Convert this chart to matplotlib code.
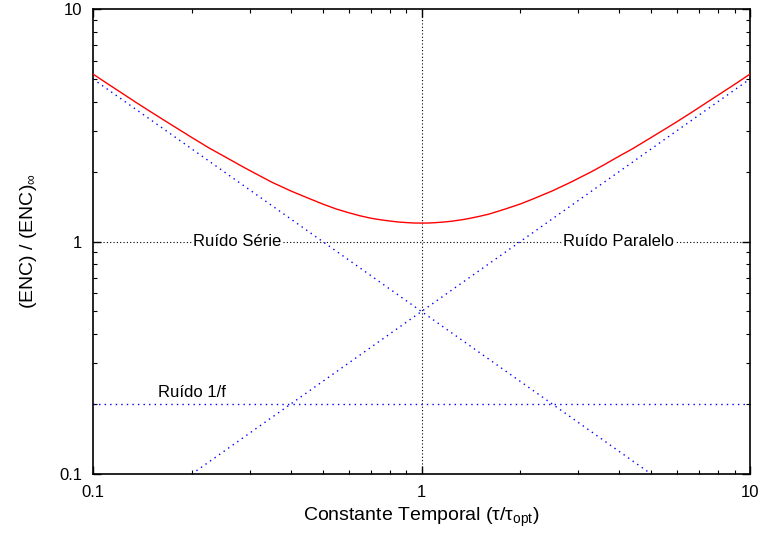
import matplotlib.pyplot as plt
from matplotlib.ticker import FixedLocator, FixedFormatter, LogLocator, NullFormatter

plt.rcParams['font.family'] = ['Liberation Sans', 'DejaVu Sans']
plt.rcParams['mathtext.fontset'] = 'custom'
plt.rcParams['mathtext.rm'] = 'Liberation Sans'
plt.rcParams['mathtext.it'] = 'Liberation Sans:italic'

# Curva total (ENC normalizado)
tau_total = [0.1, 0.11, 0.12, 0.135, 0.15, 0.17, 0.2, 0.225, 0.25, 0.28, 0.3, 0.35, 0.4,
             0.45, 0.5, 0.55, 0.6, 0.65, 0.7, 0.75, 0.8, 0.85, 0.9, 0.95, 1.0,
             1.05, 1.1, 1.18, 1.25, 1.33, 1.4, 1.5, 1.6, 1.8, 2.0, 2.2, 2.5, 2.85, 3.3,
             3.6, 4.0, 4.4, 5.0, 5.9, 6.7, 7.4, 8.3, 9.1, 10]
enc_total = [5.25, 4.80, 4.43, 3.97, 3.61, 3.23, 2.80, 2.53, 2.33, 2.13, 2.02, 1.80, 1.65,
             1.54, 1.45, 1.38, 1.33, 1.29, 1.26, 1.24, 1.225, 1.213, 1.206, 1.201, 1.20,
             1.201, 1.205, 1.214, 1.225, 1.241, 1.257, 1.283, 1.31, 1.38, 1.45, 1.53, 1.65, 1.80, 2.00,
             2.14, 2.33, 2.51, 2.80, 3.23, 3.62, 3.97, 4.41, 4.80, 5.25]

# Componentes de ruído
tau_serie = [0.1, 5]
enc_serie = [5, 0.1]
tau_paralelo = [0.2, 10]
enc_paralelo = [0.1, 5]
tau_1f = [0.1, 10]
enc_1f = [0.2, 0.2]

fig = plt.figure(figsize=(7.63, 5.35), dpi=100)
ax = fig.add_axes([93/763, 1 - 474/535, 657/763, 465/535])

ax.axvline(1, color='k', linestyle=(0, (1, 2)), linewidth=0.8, zorder=1)
ax.axhline(1, color='k', linestyle=(0, (1, 2)), linewidth=0.8, zorder=1)

azul = dict(color='#0000ff', linestyle=(0, (1, 3)), linewidth=1.0, zorder=2)
ax.plot(tau_serie, enc_serie, **azul)
ax.plot(tau_paralelo, enc_paralelo, **azul)
ax.plot(tau_1f, enc_1f, **azul)
ax.plot(tau_total, enc_total, color='#ff0000', linewidth=1.0, zorder=3)

caixa = dict(facecolor='white', edgecolor='none', pad=1)
ax.text(0.275, 1.0, 'Ruído Série', ha='center', va='center', fontsize=12, bbox=caixa, zorder=4)
ax.text(3.99, 1.0, 'Ruído Paralelo', ha='center', va='center', fontsize=12, bbox=caixa, zorder=4)
ax.text(0.2, 0.225, 'Ruído 1/f', ha='center', va='center', fontsize=12, zorder=4)

ax.set_xscale('log')
ax.set_yscale('log')
ax.set_xlim(0.1, 10)
ax.set_ylim(0.1, 10)

for eixo in (ax.xaxis, ax.yaxis):
    eixo.set_major_locator(FixedLocator([0.1, 1, 10]))
    eixo.set_major_formatter(FixedFormatter(['0.1', '1', '10']))
    eixo.set_minor_locator(LogLocator(base=10, subs=range(2, 10)))
    eixo.set_minor_formatter(NullFormatter())

ax.tick_params(which='both', direction='in', top=True, right=True, labelsize=12)
ax.tick_params(which='major', length=6, width=1, pad=8)
ax.tick_params(which='minor', length=3, width=0.8)
for s in ax.spines.values():
    s.set_linewidth(1.2)

ax.set_xlabel('Constante Temporal (τ/τ$_{\\mathrm{opt}}$)', fontsize=14, labelpad=4)
ax.set_ylabel('(ENC) / (ENC)$_{\\infty}$', fontsize=14, labelpad=14)

fig.savefig('out.png', dpi=100)
